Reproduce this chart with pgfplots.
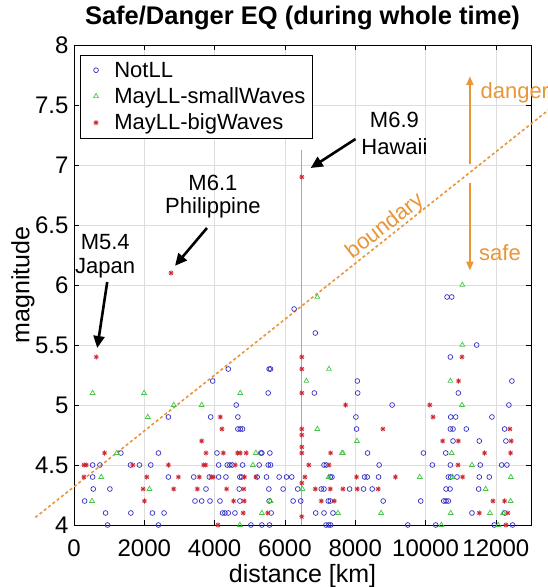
\documentclass[border=0pt]{standalone}
\usepackage{fontspec}
\setmainfont{Liberation Sans}
\usepackage{pgfplots}
\pgfplotsset{compat=1.18}
\usetikzlibrary{arrows.meta}
\definecolor{cblue}{RGB}{50,45,195}
\definecolor{cgreen}{RGB}{70,195,70}
\definecolor{cred}{RGB}{205,40,50}
\definecolor{corange}{RGB}{232,150,55}
\definecolor{cpink}{RGB}{228,125,228}
\definecolor{cgrid}{RGB}{222,222,222}
\pgfdeclareplotmark{mlstar}{%
  \pgfpathmoveto{\pgfqpoint{0pt}{\pgfplotmarksize}}\pgfpathlineto{\pgfqpoint{0pt}{-\pgfplotmarksize}}%
  \pgfpathmoveto{\pgfqpoint{\pgfplotmarksize}{0pt}}\pgfpathlineto{\pgfqpoint{-\pgfplotmarksize}{0pt}}%
  \pgfpathmoveto{\pgfqpoint{0.707\pgfplotmarksize}{0.707\pgfplotmarksize}}\pgfpathlineto{\pgfqpoint{-0.707\pgfplotmarksize}{-0.707\pgfplotmarksize}}%
  \pgfpathmoveto{\pgfqpoint{0.707\pgfplotmarksize}{-0.707\pgfplotmarksize}}\pgfpathlineto{\pgfqpoint{-0.707\pgfplotmarksize}{0.707\pgfplotmarksize}}%
  \pgfusepathqstroke}
\pgfplotsset{mlleg/.style={legend image code/.code={\path (0pt,0pt) (27pt,0pt); \draw[##1] plot coordinates {(11.5pt,0pt)};}}}
\pgfplotstableread{
x y
5524 5.1
4615 5.0
2686 4.9
3887 4.9
4662 4.9
4662 4.8
4729 4.8
4795 4.8
1333 4.6
2402 4.6
4067 4.6
5315 4.6
5344 4.6
5571 4.6
529 4.5
737 4.5
1607 4.5
1862 4.5
2184 4.5
4114 4.5
4360 4.5
4435 4.5
4501 4.5
4795 4.5
5268 4.5
5524 4.5
5590 4.5
529 4.4
2686 4.4
3404 4.4
3849 4.4
4114 4.4
4322 4.4
4719 4.4
4767 4.4
5211 4.4
5476 4.4
5836 4.4
6044 4.4
6195 4.4
548 4.3
1021 4.3
3755 4.3
4700 4.3
5543 4.3
5949 4.3
6365 4.3
302 4.2
3442 4.2
3632 4.2
3868 4.2
4152 4.2
4719 4.2
5552 4.2
6233 4.2
6450 4.2
898 4.1
1617 4.1
2231 4.1
2562 4.1
4227 4.1
4294 4.1
4388 4.1
4578 4.1
5609 4.1
954 4.0
2402 4.0
5032 4.0
5344 4.0
5561 4.0
8060 5.2
12456 5.2
6837 5.1
8070 5.1
10933 5.1
9050 5.0
12371 5.0
8019 4.9
10716 4.9
10857 4.9
11888 4.9
8038 4.8
10706 4.8
10782 4.8
11160 4.8
12248 4.8
10782 4.7
11529 4.7
12286 4.7
8350 4.6
9940 4.6
10574 4.6
7111 4.5
7177 4.5
8681 4.5
10195 4.5
10706 4.5
11557 4.5
12163 4.5
12314 4.5
7291 4.4
7338 4.4
8265 4.4
8341 4.4
8663 4.4
10649 4.4
10716 4.4
10895 4.4
11529 4.4
11813 4.4
7035 4.3
7111 4.3
7839 4.3
8237 4.3
8483 4.3
10583 4.3
10697 4.3
11510 4.3
7234 4.2
7291 4.2
8795 4.2
9864 4.2
10517 4.2
10583 4.2
10649 4.2
6875 4.1
7111 4.1
7367 4.1
11321 4.1
12257 4.1
7168 4.0
7244 4.0
7300 4.0
9495 4.0
10290 4.0
11955 4.0
12475 4.0
6261 5.8
6865 5.6
4388 5.3
5552 5.3
5590 5.3
3944 5.2
10612 5.9
10744 5.9
11454 5.5
10706 5.4
}\notll
\pgfplotstableread{
x y
529 5.1
1995 5.1
4729 5.1
2837 5.0
3632 5.0
2099 4.9
1219 4.6
5173 4.6
5088 4.5
775 4.4
2146 4.3
6498 4.3
510 4.2
5590 4.2
5344 4.1
4719 4.0
6922 5.9
7253 5.3
6611 5.2
10706 5.2
11047 6.0
11047 5.5
11037 5.0
6922 4.8
8048 4.7
7622 4.6
7650 4.6
10744 4.6
11321 4.5
7244 4.4
9836 4.4
10763 4.4
12428 4.4
11709 4.3
12418 4.2
7509 4.1
8738 4.1
10716 4.1
11832 4.1
12210 4.1
10450 4.0
12068 4.0
}\smallw
\pgfplotstableread{
x y
633 5.4
2761 6.1
6480 6.9
6480 5.4
6480 5.3
6480 5.1
6480 4.8
6480 4.75
6480 4.65
6480 4.6
6480 4.35
6480 4.07
4161 4.9
4209 4.8
3632 4.7
869 4.6
3755 4.6
4246 4.6
4653 4.6
4729 4.6
4899 4.6
283 4.5
349 4.5
1673 4.5
2686 4.5
3688 4.5
3745 4.5
4587 4.5
6680 4.5
283 4.4
2071 4.4
2969 4.4
3565 4.4
3906 4.4
3963 4.4
4852 4.4
5173 4.4
6570 4.4
1966 4.3
2837 4.3
3508 4.3
4341 4.3
4833 4.3
2004 4.2
4540 4.2
4842 4.2
4814 4.1
5514 4.1
4095 4.0
10938 5.2
7726 5.0
10120 5.0
10214 4.9
8786 4.8
12399 4.8
10488 4.7
10933 4.7
12437 4.7
7300 4.6
11680 4.6
12418 4.6
7253 4.5
10924 4.5
8038 4.4
9145 4.4
11056 4.4
6865 4.3
7291 4.3
7650 4.3
8057 4.3
8653 4.3
7035 4.2
7404 4.2
11917 4.2
12248 4.2
11529 4.1
12342 4.1
12286 4.0
11037 5.4
}\bigw
\begin{document}
\begin{tikzpicture}
\begin{axis}[
  at={(0pt,0pt)}, anchor=south west,
  scale only axis, width=457pt, height=480pt,
  xmin=0, xmax=13000, ymin=4, ymax=8,
  xtick={0,2000,...,12000}, ytick={4,4.5,...,8},
  scaled x ticks=false,
  /pgf/number format/1000 sep={},
  /pgf/number format/assume math mode=true,
  tick align=inside, major tick length=5pt,
  tick style={black, line width=0.5pt},
  axis line style={black, line width=0.6pt},
  grid=major, grid style={cgrid, line width=0.6pt},
  tick label style={font=\fontsize{24}{24}\selectfont},
  x tick label style={anchor=base, yshift=-31pt},
  y tick label style={anchor=east, xshift=-2pt},
  xlabel={distance [km]}, ylabel={magnitude},
  label style={font=\fontsize{25}{25}\selectfont},
  xlabel style={at={(axis description cs:0.5,0)}, anchor=base, yshift=-57pt},
  ylabel style={at={(axis description cs:-0.112,0.5)}, anchor=center},
  title={Safe/Danger EQ (during whole time)},
  title style={font=\fontsize{25.5}{25.5}\selectfont\bfseries, at={(axis description cs:0.5,1)}, anchor=base, yshift=14pt},
  clip=false,
  legend cell align=left,
  legend style={at={(axis description cs:0.013,0.979)}, anchor=north west,
    font=\fontsize{22}{22}\selectfont, draw=black, line width=0.6pt,
    nodes={inner sep=2.5pt}, row sep=4pt, inner xsep=4pt, inner ysep=4pt},
]
\addplot[cpink, line width=0.9pt, forget plot] coordinates {(6480,4) (6480,7.125)};
\addplot[only marks, mlleg, mark=o, mark size=2.4pt, cblue, mark options={line width=0.7pt}] table {\notll};
\addlegendentry{NotLL}
\addplot[only marks, mlleg, mark=triangle, mark size=2.8pt, cgreen, mark options={line width=0.7pt}] table {\smallw};
\addlegendentry{MayLL-smallWaves}
\addplot[only marks, mlleg, mark=mlstar, mark size=2.6pt, cred, mark options={line width=0.7pt}] table {\bigw};
\addlegendentry{MayLL-bigWaves}
\addplot[corange, line width=1.6pt, dash pattern=on 3pt off 2.5pt, forget plot] coordinates {(-1100,4.063) (14000,7.575)};
% annotations
\node[font=\fontsize{22}{22}\selectfont, anchor=base, rotate=37.8, text=corange] at (axis cs:8950,6.45) {boundary};
\draw[corange, line width=2pt, -{Triangle[length=9pt,width=7pt]}] (axis cs:11262,7.008) -- (axis cs:11262,7.74);
\draw[corange, line width=2pt, -{Triangle[length=9pt,width=7pt]}] (axis cs:11262,6.852) -- (axis cs:11262,6.12);
\node[font=\fontsize{22}{22}\selectfont, anchor=west, text=corange, inner sep=0pt] at (axis cs:11560,7.6) {danger};
\node[font=\fontsize{22}{22}\selectfont, anchor=west, text=corange, inner sep=0pt] at (axis cs:11520,6.267) {safe};
\node[font=\fontsize{22}{22}\selectfont, align=center, inner sep=0pt] at (axis cs:888,6.36) {M5.4};
\node[font=\fontsize{22}{22}\selectfont, align=center, inner sep=0pt] at (axis cs:888,6.14) {Japan};
\node[font=\fontsize{22}{22}\selectfont, align=center, inner sep=0pt] at (axis cs:3952,6.85) {M6.1};
\node[font=\fontsize{22}{22}\selectfont, align=center, inner sep=0pt] at (axis cs:3952,6.64) {Philippine};
\node[font=\fontsize{22}{22}\selectfont, align=center, inner sep=0pt] at (axis cs:9115,7.375) {M6.9};
\node[font=\fontsize{22}{22}\selectfont, align=center, inner sep=0pt] at (axis cs:9115,7.15) {Hawaii};
\draw[black, line width=2.6pt, -{Triangle[length=12pt,width=11pt]}] (axis cs:945,6.025) -- (axis cs:661,5.475);
\draw[black, line width=2.6pt, -{Triangle[length=12pt,width=11pt]}] (axis cs:3782,6.475) -- (axis cs:2874,6.16);
\draw[black, line width=2.6pt, -{Triangle[length=12pt,width=11pt]}] (axis cs:8009,7.217) -- (axis cs:6733,6.975);
\end{axis}
\pgfresetboundingbox
\path[use as bounding box] (-74pt,-62pt) rectangle (474pt,525pt);
\end{tikzpicture}
\end{document}
